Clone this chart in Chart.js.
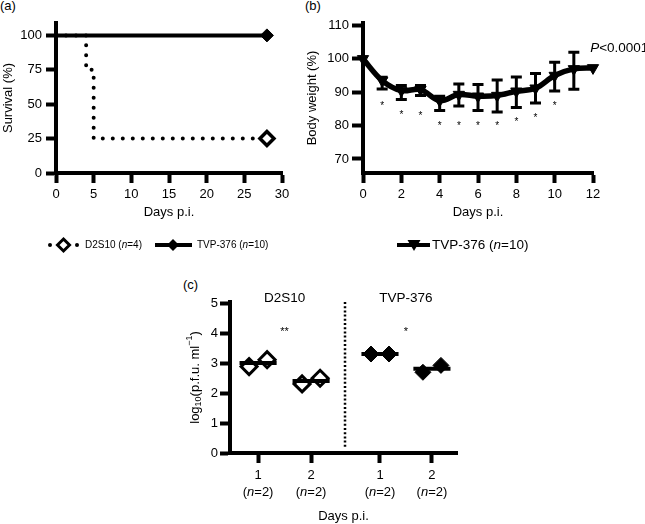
<!DOCTYPE html>
<html><head><meta charset="utf-8">
<script src="https://cdn.jsdelivr.net/npm/chart.js@4.4.1/dist/chart.umd.min.js"></script>
<style>
html,body{margin:0;padding:0;background:#fff;}
body{width:645px;height:524px;position:relative;overflow:hidden;font-family:'Liberation Sans',Arial,Helvetica,sans-serif;color:#000;}
canvas{position:absolute;}
.lbl{position:absolute;font-size:13px;line-height:15px;white-space:nowrap;}
.leg{position:absolute;white-space:nowrap;}
svg{position:absolute;left:0;top:0;}
</style></head><body>
<div class="lbl" style="left:0;top:-2px">(a)</div>
<div class="lbl" style="left:305px;top:-2px">(b)</div>
<div class="lbl" style="left:183px;top:277px">(c)</div>
<canvas id="ca" width="300" height="225" style="left:0;top:0"></canvas>
<canvas id="cb" width="345" height="225" style="left:300px;top:0"></canvas>
<canvas id="cc" width="330" height="254" style="left:150px;top:270px"></canvas>
<svg width="645" height="524">
  <circle cx="50" cy="245" r="2" fill="#000"/>
  <polygon points="63.5,239 69.5,245 63.5,251 57.5,245" fill="#fff" stroke="#000" stroke-width="3"/>
  <circle cx="77" cy="245" r="2" fill="#000"/>
  <line x1="155" y1="245" x2="192" y2="245" stroke="#000" stroke-width="4"/>
  <polygon points="173,239 179,245 173,251 167,245" fill="#000"/>
  <line x1="397" y1="245" x2="430" y2="245" stroke="#000" stroke-width="4"/>
  <polygon points="407.5,240 420.5,240 414,251" fill="#000"/>
</svg>
<div class="leg" style="left:85px;top:239px;font-size:10px;line-height:12px">D2S10 (<i>n</i>=4)</div>
<div class="leg" style="left:197px;top:239px;font-size:10px;line-height:12px">TVP-376 (<i>n</i>=10)</div>
<div class="leg" style="left:432px;top:237px;font-size:13.5px;line-height:16px">TVP-376 (<i>n</i>=10)</div>
<script>
// ---------- (a) Survival ----------
const survDaysD2S10 = [0, 4, 5, 28];
const survD2S10 = [100, 75, 25, 25];
const survDaysTVP = [0, 28];
const survTVP = [100, 100];
const survYTicks = [0, 25, 50, 75, 100];

// ---------- (b) Body weight ----------
const bwDays = [0, 1, 2, 3, 4, 5, 6, 7, 8, 9, 10, 11, 12];
const bwMean = [100, 93.5, 90.5, 90.8, 87.5, 89.3, 88.8, 89.0, 90.3, 91.2, 95.0, 97.0, 97.3];
const bwHi   = [null, 94.5, 92.0, 92.0, 88.8, 92.5, 92.3, 93.7, 94.6, 95.6, 99.0, 102.0, null];
const bwLo   = [null, 91.0, 87.8, 89.0, 84.5, 85.9, 84.5, 84.1, 85.4, 86.8, 90.4, 90.9, null];
const bwStars = [null, 86.6, 84.1, 83.8, 80.6, 80.8, 80.6, 80.8, 81.8, 83.1, 86.6, null, null];
const bwYTicks = [70, 80, 90, 100, 110];
const bwPText = '<0.0001';

// ---------- (c) Viraemia ----------
const vGroups = ['D2S10', 'D2S10', 'TVP-376', 'TVP-376'];
const vDays = ['1', '2', '1', '2'];
const vN = [2, 2, 2, 2];
const vRep1 = [2.89, 2.31, 3.31, 2.70];
const vRep2 = [3.12, 2.50, 3.31, 2.93];
const vMean = [3.01, 2.41, 3.31, 2.82];
const vSig = {'D2S10': '**', 'TVP-376': '*'};
const vYTicks = [0, 1, 2, 3, 4, 5];

// layout constants (category positions on the panel-c axis)
const vX = [0.53, 1.53, 2.83, 3.81];
const vDivider = 2.17;

const FONT = "'Liberation Sans', Arial, Helvetica, sans-serif";
Chart.defaults.font.family = FONT;
Chart.defaults.color = '#000';

function axis(tickLen, pad, size) {
  return {
    border: {display: true, color: '#000', width: 4},
    grid: {display: true, drawOnChartArea: false, drawTicks: true, tickLength: tickLen, tickWidth: 4, tickColor: '#000'},
    ticks: {color: '#000', padding: pad, font: {size: size}, maxRotation: 0, autoSkip: false}
  };
}
const baseOpts = {
  responsive: false, animation: false, devicePixelRatio: 1,
  plugins: {legend: {display: false}, tooltip: {enabled: false}}
};

// ---------- Chart A ----------
const axA = axis(10, 4, 13), ayA = axis(10, 4, 13);
new Chart(document.getElementById('ca'), {
  type: 'line',
  data: {datasets: [
    {data: survDaysTVP.map((d, i) => ({x: d, y: survTVP[i]})),
     borderColor: '#000', borderWidth: 4, tension: 0, clip: false,
     pointStyle: 'rectRot', pointRadius: survDaysTVP.map((d, i) => i === survDaysTVP.length - 1 ? 6.5 : 0),
     pointBackgroundColor: '#000', pointBorderColor: '#000', pointBorderWidth: 1},
    {data: survDaysD2S10.map((d, i) => ({x: d, y: survD2S10[i]})),
     borderColor: '#000', borderWidth: 4, stepped: 'before', borderDash: [0, 10], borderCapStyle: 'round', clip: false,
     pointStyle: 'rectRot', pointRadius: survDaysD2S10.map((d, i) => i === survDaysD2S10.length - 1 ? 7 : 0),
     pointBackgroundColor: '#fff', pointBorderColor: '#000', pointBorderWidth: 3.5}
  ]},
  options: Object.assign({}, baseOpts, {
    layout: {padding: {left: 0, top: 23, right: 18, bottom: 0}},
    scales: {
      x: Object.assign(axA, {type: 'linear', min: 0, max: 30,
        ticks: Object.assign(axA.ticks, {stepSize: 5}),
        afterFit: s => { s.height = 52; },
        title: {display: true, text: 'Days p.i.', font: {size: 13}, padding: {top: 0, bottom: 5}}}),
      y: Object.assign(ayA, {type: 'linear', min: 0, max: 109,
        afterBuildTicks: s => { s.ticks = survYTicks.map(v => ({value: v})); },
        afterFit: s => { s.width = 56; },
        title: {display: true, text: 'Survival (%)', font: {size: 13}, padding: {top: 0.5, bottom: 0}}})
    }
  })
});

// ---------- Chart B ----------
const errPlugin = {
  id: 'err',
  beforeDatasetsDraw(chart) {
    const {ctx, scales: {x, y}} = chart;
    ctx.save();
    ctx.strokeStyle = '#000'; ctx.lineWidth = 3;
    bwDays.forEach((d, i) => {
      if (bwHi[i] == null) return;
      const px = x.getPixelForValue(d), yh = y.getPixelForValue(bwHi[i]), yl = y.getPixelForValue(bwLo[i]);
      ctx.beginPath();
      ctx.moveTo(px, yh); ctx.lineTo(px, yl);
      ctx.moveTo(px - 5.5, yh); ctx.lineTo(px + 5.5, yh);
      ctx.moveTo(px - 5.5, yl); ctx.lineTo(px + 5.5, yl);
      ctx.stroke();
    });
    ctx.restore();
  },
  afterDraw(chart) {
    const {ctx, scales: {x, y}} = chart;
    ctx.save();
    ctx.fillStyle = '#000';
    ctx.font = '10px ' + FONT; ctx.textAlign = 'center'; ctx.textBaseline = 'alphabetic';
    bwDays.forEach((d, i) => {
      if (bwStars[i] == null) return;
      ctx.fillText('*', x.getPixelForValue(d), y.getPixelForValue(bwStars[i]) + 5.8);
    });
    // P value annotation
    const px = x.getPixelForValue(11.85), py = y.getPixelForValue(103.3);
    ctx.textAlign = 'left'; ctx.textBaseline = 'middle';
    ctx.font = 'italic 13.5px ' + FONT;
    ctx.fillText('P', px, py);
    const w = ctx.measureText('P').width;
    ctx.font = '13.5px ' + FONT;
    ctx.fillText(bwPText, px + w, py);
    ctx.restore();
  }
};
const axB = axis(10, 4, 13), ayB = axis(11, 3, 13);
new Chart(document.getElementById('cb'), {
  type: 'line',
  data: {datasets: [
    {data: bwDays.map((d, i) => ({x: d, y: bwMean[i]})),
     borderColor: '#000', borderWidth: 5.5, tension: 0.35, clip: false,
     pointStyle: 'triangle', pointRotation: 180, pointRadius: 6.5,
     pointBackgroundColor: '#000', pointBorderColor: '#000', pointBorderWidth: 1}
  ]},
  options: Object.assign({}, baseOpts, {
    layout: {padding: {left: 0, top: 23, right: 52, bottom: 0}},
    scales: {
      x: Object.assign(axB, {type: 'linear', min: 0, max: 12,
        ticks: Object.assign(axB.ticks, {stepSize: 2}),
        afterFit: s => { s.height = 52; },
        title: {display: true, text: 'Days p.i.', font: {size: 13}, padding: {top: 0, bottom: 5}}}),
      y: Object.assign(ayB, {type: 'linear', min: 65.8, max: 110.75,
        afterBuildTicks: s => { s.ticks = bwYTicks.map(v => ({value: v})); },
        afterFit: s => { s.width = 63; },
        title: {display: true, text: 'Body weight (%)', font: {size: 13}, padding: {top: 4.2, bottom: 0}}})
    }
  }),
  plugins: [errPlugin]
});

// ---------- Chart C ----------
const cPlugin = {
  id: 'ctext',
  afterDraw(chart) {
    const {ctx, scales: {x, y}} = chart;
    ctx.save();
    ctx.fillStyle = '#000';
    ctx.textBaseline = 'middle';
    // x tick labels (day and n)
    vX.forEach((v, i) => {
      const px = x.getPixelForValue(v);
      ctx.textAlign = 'center';
      ctx.font = '13px ' + FONT;
      ctx.fillText(vDays[i], px, 205);
      const a = '(', b = 'n', c = '=' + vN[i] + ')';
      ctx.font = '13px ' + FONT; const wa = ctx.measureText(a).width, wc = ctx.measureText(c).width;
      ctx.font = 'italic 13px ' + FONT; const wb = ctx.measureText(b).width;
      let sx = px - (wa + wb + wc) / 2;
      ctx.textAlign = 'left';
      ctx.font = '13px ' + FONT; ctx.fillText(a, sx, 222); sx += wa;
      ctx.font = 'italic 13px ' + FONT; ctx.fillText(b, sx, 222); sx += wb;
      ctx.font = '13px ' + FONT; ctx.fillText(c, sx, 222);
    });
    // group labels and significance marks
    const groups = [...new Set(vGroups)];
    groups.forEach(g => {
      const xs = vX.filter((v, i) => vGroups[i] === g);
      const cx = x.getPixelForValue(xs.reduce((s, v) => s + v, 0) / xs.length);
      ctx.textAlign = 'center';
      ctx.font = '13.5px ' + FONT;
      ctx.fillText(g, cx, y.getPixelForValue(5.18));
      ctx.font = '11px ' + FONT; ctx.textBaseline = 'alphabetic';
      ctx.fillText(vSig[g], cx, y.getPixelForValue(4.17) + 6.4);
      ctx.textBaseline = 'middle';
    });
    // y axis title with sub/superscripts
    const cy = (y.top + y.bottom) / 2;
    const parts = [['log', 13, 0], ['10', 9, 3.5], ['(p.f.u. ml', 13, 0], ['\u22121', 9, -5], [')', 13, 0]];
    let tw = 0;
    parts.forEach(p => { ctx.font = p[1] + 'px ' + FONT; tw += ctx.measureText(p[0]).width; });
    ctx.translate(45, cy);
    ctx.rotate(-Math.PI / 2);
    ctx.textAlign = 'left'; ctx.textBaseline = 'middle';
    let sx = -tw / 2;
    parts.forEach(p => {
      ctx.font = p[1] + 'px ' + FONT;
      ctx.fillText(p[0], sx, p[2]);
      sx += ctx.measureText(p[0]).width;
    });
    ctx.restore();
  }
};
const meanSets = vX.map((v, i) => ({
  data: [{x: v - 0.35, y: vMean[i]}, {x: v + 0.35, y: vMean[i]}],
  showLine: true, borderColor: '#000', borderWidth: 4, pointRadius: 0, clip: false
}));
function repPoints(g) {
  const pts = [];
  vX.forEach((v, i) => {
    if (vGroups[i] !== g) return;
    pts.push({x: v - 0.17, y: vRep1[i]});
    pts.push({x: v + 0.17, y: vRep2[i]});
  });
  return pts;
}
const axC = axis(10, 3, 13), ayC = axis(10, 2, 13);
new Chart(document.getElementById('cc'), {
  type: 'scatter',
  data: {datasets: meanSets.concat([
    {data: repPoints('D2S10'), pointStyle: 'rectRot', pointRadius: 8, pointBackgroundColor: '#fff',
     pointBorderColor: '#000', pointBorderWidth: 3, clip: false},
    {data: repPoints('TVP-376'), pointStyle: 'rectRot', pointRadius: 8, pointBackgroundColor: '#000',
     pointBorderColor: '#000', pointBorderWidth: 1, clip: false},
    {data: [{x: vDivider, y: 5.05}, {x: vDivider, y: 0.15}], showLine: true, pointRadius: 0,
     borderColor: '#000', borderWidth: 2.5, borderDash: [2, 2.2], clip: false}
  ])},
  options: Object.assign({}, baseOpts, {
    layout: {padding: {left: 0, top: 32, right: 23, bottom: 0}},
    scales: {
      x: Object.assign(axC, {type: 'linear', min: 0, max: 4.283,
        ticks: Object.assign(axC.ticks, {color: 'rgba(0,0,0,0)'}),
        afterBuildTicks: s => { s.ticks = vX.map(v => ({value: v})); },
        afterFit: s => { s.height = 71; },
        title: {display: true, text: 'Days p.i.', font: {size: 13}, padding: {top: 0, bottom: 0}}}),
      y: Object.assign(ayC, {type: 'linear', min: 0, max: 5.05,
        afterBuildTicks: s => { s.ticks = vYTicks.map(v => ({value: v})); },
        afterFit: s => { s.width = 80; }})
    }
  }),
  plugins: [cPlugin]
});
</script>
</body></html>
